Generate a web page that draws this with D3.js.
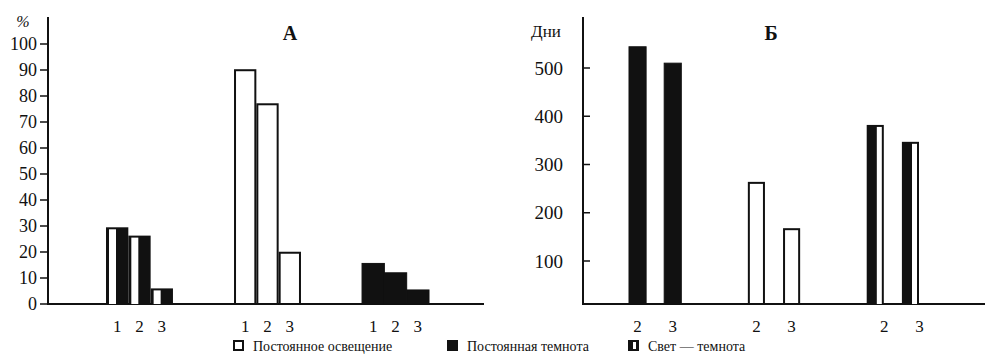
<!DOCTYPE html>
<html>
<head>
<meta charset="utf-8">
<script src="https://cdn.jsdelivr.net/npm/d3@7"></script>
<style>
  body { margin: 0; background: #fff; }
  svg text { font-family: "Liberation Serif", "Times New Roman", "DejaVu Serif", serif; fill: #111; }
</style>
</head>
<body>
<div id="vis"></div>
<script>
// panel A: percent, three groups of three bars
var groupsA = ["g1", "g2", "g3"];
var catsA = ["1", "2", "3"];
var kindA = ["mix", "light", "dark"];
var valuesA = [
  [29.5, 26.3, 6],
  [90.3, 77.2, 20.1],
  [15.6, 12, 5.4]
];
var ticksA = [0, 10, 20, 30, 40, 50, 60, 70, 80, 90, 100];

// panel B: days, three groups of two bars
var groupsB = ["g1", "g2", "g3"];
var catsB = ["2", "3"];
var kindB = ["dark", "light", "mix"];
var valuesB = [
  [544, 510],
  [264, 168],
  [382, 347]
];
var ticksB = [100, 200, 300, 400, 500];

var legendLabels = ["Постоянное освещение", "Постоянная темнота", "Свет — темнота"];
var legendKinds = ["light", "dark", "mix"];

var width = 995, height = 362;
var ink = "#111";
var serif = "'Liberation Serif', 'Times New Roman', 'DejaVu Serif', serif";

var svg = d3.select("#vis").append("svg")
  .attr("width", width)
  .attr("height", height)
  .attr("font-family", serif);

var base = 304;

// draw one bar according to its kind
function drawBar(g, x, y, w, h, kind, whiteSide) {
  if (kind == "dark") {
    g.append("rect").attr("x", x).attr("y", y).attr("width", w).attr("height", h)
      .attr("fill", ink).attr("stroke", ink).attr("stroke-width", 1);
  } else if (kind == "light") {
    g.append("rect").attr("x", x + 1).attr("y", y + 1).attr("width", w - 2).attr("height", h - 1)
      .attr("fill", "#fff").attr("stroke", ink).attr("stroke-width", 2);
  } else {
    g.append("rect").attr("x", x).attr("y", y).attr("width", w).attr("height", h)
      .attr("fill", ink);
    var sw = whiteSide == "left" ? 7 : 5;
    var sx = whiteSide == "left" ? x + 3 : x + w - 2 - sw;
    g.append("rect").attr("x", sx).attr("y", y + 2).attr("width", sw).attr("height", h - 2)
      .attr("fill", "#fff");
  }
}

function label(g, x, y, txt, size) {
  return g.append("text").attr("x", x).attr("y", y)
    .style("font-family", serif).style("font-size", size + "px").text(txt);
}

// ---------- Panel A ----------
var yA = d3.scaleLinear().domain([0, 100]).range([base, 44]);
var xA = d3.scaleBand().domain(groupsA).range([106, 429]).paddingInner(0.477);
var xA1 = d3.scaleBand().domain(catsA).range([0, xA.bandwidth()]);

var gA = svg.append("g");
gA.append("line").attr("x1", 48).attr("x2", 48).attr("y1", 17).attr("y2", base + 1)
  .attr("stroke", ink).attr("stroke-width", 2);
gA.append("line").attr("x1", 47).attr("x2", 484).attr("y1", base).attr("y2", base)
  .attr("stroke", ink).attr("stroke-width", 2);

ticksA.forEach(function(t) {
  gA.append("line").attr("x1", 40).attr("x2", 48).attr("y1", yA(t)).attr("y2", yA(t))
    .attr("stroke", ink).attr("stroke-width", 1.5);
  label(gA, 37, yA(t), t, 18).attr("dy", "0.35em").attr("text-anchor", "end");
});
label(gA, 23, 27, "%", 16).attr("text-anchor", "middle").style("font-style", "italic");
label(gA, 290, 40, "А", 20).attr("text-anchor", "middle").style("font-weight", "bold");

groupsA.forEach(function(gname, i) {
  catsA.forEach(function(c, j) {
    var v = valuesA[i][j];
    var x = xA(gname) + xA1(c);
    drawBar(gA, x, yA(v), xA1.bandwidth(), base - yA(v), kindA[i], "left");
    label(gA, x + xA1.bandwidth() / 2, 332, c, 17).attr("text-anchor", "middle");
  });
});

// ---------- Panel B ----------
var yB = d3.scaleLinear().domain([100, 500]).range([261, 68]);
var xB = d3.scaleBand().domain(groupsB).range([629, 919]).paddingInner(0.56);
var xB1 = d3.scaleBand().domain(catsB).range([0, xB.bandwidth()]).paddingInner(0.514);

var gB = svg.append("g");
gB.append("line").attr("x1", 583).attr("x2", 583).attr("y1", 17).attr("y2", base + 1)
  .attr("stroke", ink).attr("stroke-width", 2);
gB.append("line").attr("x1", 582).attr("x2", 985).attr("y1", base).attr("y2", base)
  .attr("stroke", ink).attr("stroke-width", 2);

ticksB.forEach(function(t) {
  gB.append("line").attr("x1", 583).attr("x2", 590).attr("y1", yB(t)).attr("y2", yB(t))
    .attr("stroke", ink).attr("stroke-width", 1.5);
  label(gB, 563, yB(t), t, 19).attr("dy", "0.35em").attr("text-anchor", "end");
});
label(gB, 546, 37, "Дни", 17).attr("text-anchor", "middle");
label(gB, 771, 40, "Б", 20).attr("text-anchor", "middle").style("font-weight", "bold");

groupsB.forEach(function(gname, i) {
  catsB.forEach(function(c, j) {
    var v = valuesB[i][j];
    var x = xB(gname) + xB1(c);
    drawBar(gB, x, yB(v), xB1.bandwidth(), base - yB(v), kindB[i], "right");
    label(gB, x + xB1.bandwidth() / 2 + (kindB[i] == "mix" ? 9 : 0), 332, c, 17)
      .attr("text-anchor", "middle");
  });
});

// ---------- Legend ----------
var legendX = [233, 447, 628];
var leg = svg.append("g");
legendLabels.forEach(function(l, i) {
  var lx = legendX[i];
  var k = legendKinds[i];
  if (k == "light") {
    leg.append("rect").attr("x", lx + 1).attr("y", 341).attr("width", 9).attr("height", 9)
      .attr("fill", "#fff").attr("stroke", ink).attr("stroke-width", 2);
  } else if (k == "dark") {
    leg.append("rect").attr("x", lx).attr("y", 340).attr("width", 11).attr("height", 11).attr("fill", ink);
  } else {
    leg.append("rect").attr("x", lx).attr("y", 340).attr("width", 11).attr("height", 11).attr("fill", ink);
    leg.append("rect").attr("x", lx + 5).attr("y", 342).attr("width", 3).attr("height", 7).attr("fill", "#fff");
  }
  label(leg, lx + 20, 346, l, 14).attr("dy", "0.35em");
});
</script>
</body>
</html>
